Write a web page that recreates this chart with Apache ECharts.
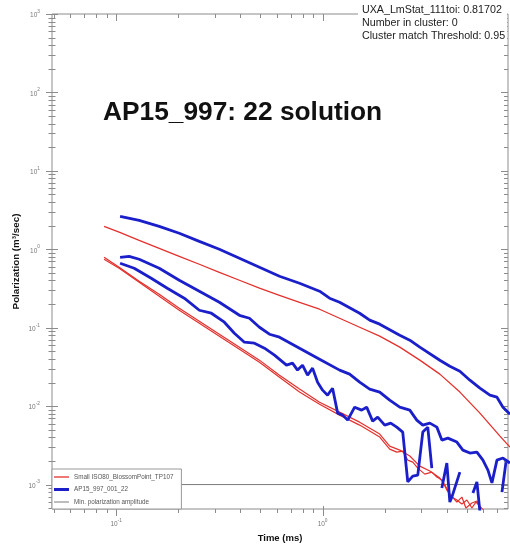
<!DOCTYPE html>
<html>
<head>
<meta charset="utf-8">
<script src="https://cdn.jsdelivr.net/npm/echarts@6/dist/echarts.min.js"></script>
<style>
  html, body { margin: 0; padding: 0; background: #fff; }
  #chart { width: 510px; height: 544px; }
</style>
</head>
<body>
<div id="chart"></div>
<script>
// Axis extents: time in ms, polarization in m^3/sec
const timeMin = 0.0489, timeMax = 7.91;
const polMin = 0.000488, polMax = 1000;
const minAmplitude = 0.001;

// Decade ticks and their exponents (labels read 10^exp)
const xMajorTicks = [0.1, 1];
const xTickExponents = ['-1', '0'];
const yMajorTicks = [0.001, 0.01, 0.1, 1, 10, 100, 1000];
const yTickExponents = ['-3', '-2', '-1', '0', '1', '2', '3'];

const refName = 'Small ISO80_BlossomPoint_TP107';
const solName = 'AP15_997_001_22';
const ampName = 'Min. polarization amplitude';

const statsLines = [
  'UXA_LmStat_111toi: 0.81702',
  'Number in cluster: 0',
  'Cluster match Threshold: 0.95'
];
const titleText = 'AP15_997: 22 solution';

// Reference decay curves [time, polarization]
const refUpper = [[0.0874,1.96],[0.1034,1.65],[0.1293,1.30],[0.1617,1.03],[0.2022,0.814],[0.2529,0.644],[0.3162,0.509],[0.3955,0.403],[0.4945,0.319],[0.6184,0.259],[0.7733,0.211],[0.967,0.172],[1.209,0.132],[1.512,0.1014],[1.891,0.078],[2.365,0.0565],[2.957,0.0386],[3.698,0.0256],[4.624,0.0151],[5.782,0.00815],[7.231,0.00415],[8.087,0.0030]];
const refLowerA = [[0.0874,0.791],[0.1034,0.590],[0.1293,0.391],[0.1617,0.267],[0.2022,0.177],[0.2529,0.121],[0.3162,0.0826],[0.3955,0.0564],[0.4945,0.0386],[0.6184,0.0248],[0.7733,0.0165],[0.967,0.0112],[1.209,0.00839],[1.512,0.00625],[1.891,0.0044],[2.114,0.00309],[2.365,0.00275],[2.645,0.00231],[2.957,0.00172],[3.307,0.00149],[3.698,0.00121],[3.91,0.000985],[4.135,0.000757],[4.472,0.000598],[4.729,0.000693],[4.945,0.000502],[5.288,0.000581],[5.592,0.000616],[5.848,0.000488]];
const refLowerB = [[0.0874,0.746],[0.1034,0.573],[0.1293,0.380],[0.1617,0.252],[0.2022,0.167],[0.2529,0.114],[0.3162,0.0779],[0.3955,0.0532],[0.4945,0.0363],[0.6184,0.0234],[0.7733,0.0151],[0.967,0.0106],[1.209,0.00768],[1.512,0.00573],[1.891,0.00403],[2.114,0.00283],[2.287,0.00259],[2.445,0.00267],[2.586,0.00205],[2.735,0.00193],[2.892,0.00162],[3.127,0.00136],[3.382,0.00144],[3.577,0.00125],[3.782,0.00114],[3.999,0.000851],[4.229,0.000693],[4.472,0.000635],[4.729,0.000564],[5.001,0.000635],[5.288,0.000502],[5.53,0.000598],[5.782,0.000532],[6.115,0.000447]];

// Solution decay curves [time, polarization]; '-' marks a gap
const solUpper = [[0.1045,2.63],[0.1293,2.34],[0.1617,1.96],[0.2022,1.60],[0.2529,1.26],[0.3162,1.00],[0.3955,0.768],[0.4945,0.590],[0.6184,0.453],[0.7733,0.369],[0.967,0.292],[1.081,0.238],[1.209,0.211],[1.512,0.153],[1.691,0.125],[1.891,0.111],[2.365,0.0802],[2.645,0.0693],[2.957,0.0565],[3.698,0.0385],[4.135,0.0323],[4.624,0.0279],[5.171,0.0214],[5.782,0.0170],[6.466,0.0138],[6.993,0.0130],[7.478,0.0097],[8.087,0.0079]];
const solMiddle = [[0.1045,0.791],[0.1156,0.814],[0.1293,0.746],[0.1617,0.573],[0.2022,0.403],[0.2529,0.292],[0.3162,0.211],[0.3955,0.144],[0.4423,0.132],[0.4945,0.1014],[0.553,0.0826],[0.6184,0.0757],[0.7733,0.0548],[0.967,0.0397],[1.209,0.0288],[1.352,0.0256],[1.512,0.0202],[1.691,0.0165],[1.891,0.0151],[2.114,0.0119],[2.365,0.0097],[2.645,0.0089],[2.86,0.00664],[3.058,0.00573],[3.307,0.00607],[3.577,0.0054],[3.782,0.00369],[4.045,0.00391],[4.472,0.00348],[4.782,0.00275],[5.171,0.00252],[5.592,0.00259],[5.98,0.00205],[6.324,0.00153],[6.612,0.00105],[6.993,0.00205],[7.478,0.00218],[8.087,0.00188]];
const solLower = [[0.1045,0.663],[0.1223,0.573],[0.1479,0.427],[0.1769,0.319],[0.2138,0.238],[0.2529,0.167],[0.2892,0.153],[0.3344,0.1175],[0.3739,0.0851],[0.4181,0.0653],[0.4677,0.0635],[0.5231,0.0548],[0.5848,0.0447],[0.6687,0.0333],[0.7152,0.0353],[0.7561,0.0288],[0.7996,0.0333],[0.8456,0.0248],[0.8943,0.0305],[0.9456,0.0202],[1.0,0.016],[1.057,0.0138],[1.118,0.0169],[1.183,0.00815],[1.251,0.00768],[1.323,0.00664],[1.43,0.0097],[1.546,0.0089],[1.635,0.0097],[1.748,0.00644],[1.849,0.00724],[2.0,0.00573],[2.138,0.00607],[2.287,0.0054],[2.445,0.00467],[2.586,0.00108],[2.735,0.00128],[2.892,0.00132],[3.058,0.00467],[3.233,0.0054],[3.382,0.00162],[3.5,'-'],[3.782,0.000902],[3.91,0.0014],[3.999,0.00188],[4.135,0.000598],[4.229,0.000693],[4.624,0.00144],[4.9,'-'],[5.348,0.00078],[5.592,0.00108],[5.782,0.00045],[6.5,'-'],[7.395,0.000802],[7.733,0.00193]];

const red = '#e3312d';
const blue = '#1a1fc9';
const gray = '#7a7a7a';
const axisColor = '#8c8c8c';
const font = '"Liberation Sans", Arial, sans-serif';

// Minor ticks at 2..9 of every decade inside the axis range
function minorTicks(lo, hi, firstExp, lastExp) {
  const out = [];
  for (let e = firstExp; e <= lastExp; e++) {
    for (let m = 2; m <= 9; m++) {
      const v = m * Math.pow(10, e);
      if (v > lo && v < hi) out.push(v);
    }
  }
  return out;
}

// Tick rows: [time, polarization, kind]; kind 0/1 = x minor/major, 2/3 = y minor/major
const tickData = [];
minorTicks(timeMin, timeMax, -2, 0).forEach(v => tickData.push([v, polMin, 0]));
xMajorTicks.forEach(v => tickData.push([v, polMin, 1]));
minorTicks(polMin, polMax, -4, 2).forEach(v => tickData.push([timeMin, v, 2]));
yMajorTicks.forEach(v => tickData.push([timeMin, v, 3]));

function renderTick(params, api) {
  const x = api.value(0), y = api.value(1), kind = api.value(2);
  const style = { stroke: axisColor, lineWidth: 1 };
  const major = kind === 1 || kind === 3;
  if (kind < 2) {
    const b = api.coord([x, polMin]);
    const t = api.coord([x, polMax]);
    const px = Math.round(b[0]) + 0.5;
    return { type: 'group', children: [
      { type: 'line', shape: { x1: px, y1: b[1] - (major ? 3 : 0), x2: px, y2: b[1] + (major ? 7 : 4) }, style },
      { type: 'line', shape: { x1: px, y1: t[1], x2: px, y2: t[1] + (major ? 7 : 4) }, style }
    ]};
  }
  const l = api.coord([timeMin, y]);
  const r = api.coord([timeMax, y]);
  const py = Math.round(l[1]) + 0.5;
  const half = major ? 6 : 3.5;
  return { type: 'group', children: [
    { type: 'line', shape: { x1: l[0] - half, y1: py, x2: l[0] + half, y2: py }, style },
    { type: 'line', shape: { x1: r[0] - (major ? 7 : 4), y1: py, x2: r[0], y2: py }, style }
  ]};
}

// "10" with a raised exponent, only at whole decades
function decadeLabel(values, exponents) {
  return v => {
    const i = values.findIndex(d => Math.abs(Math.log10(v) - Math.log10(d)) < 1e-6);
    return i < 0 ? '' : '{b|10}{s|' + exponents[i] + '}';
  };
}
const powerRich = {
  b: { fontSize: 6.5, lineHeight: 10, color: '#777', fontFamily: font, verticalAlign: 'bottom' },
  s: { fontSize: 4.8, lineHeight: 6, color: '#777', fontFamily: font, verticalAlign: 'top' }
};

// Thin bar icons sized like each series' stroke
function barIcon(thickness) {
  const y0 = (8 - thickness) / 2, y1 = y0 + thickness;
  return 'path://M0 0M15 8M0 ' + y0 + 'H15V' + y1 + 'H0Z';
}

function curve(name, data, color, width, z) {
  return {
    name, type: 'line', data, symbol: 'none', showSymbol: false,
    connectNulls: false, z,
    lineStyle: { color, width }, itemStyle: { color }
  };
}

const chart = echarts.init(document.getElementById('chart'), null, { renderer: 'canvas' });
chart.setOption({
  animation: false,
  backgroundColor: '#fff',
  textStyle: { fontFamily: font },
  grid: {
    left: 52, right: 2, top: 14, bottom: 35,
    outerBoundsMode: 'none', containLabel: false,
    show: true, borderColor: axisColor, borderWidth: 1, backgroundColor: 'transparent'
  },
  xAxis: {
    type: 'log', min: timeMin, max: timeMax,
    axisLine: { show: false }, axisTick: { show: false }, splitLine: { show: false },
    axisLabel: { formatter: decadeLabel(xMajorTicks, xTickExponents), rich: powerRich, margin: 9 },
    name: 'Time (ms)', nameLocation: 'middle', nameGap: 23,
    nameTextStyle: { fontWeight: 'bold', fontSize: 9.5, color: '#111', fontFamily: font }
  },
  yAxis: {
    type: 'log', min: polMin, max: polMax,
    axisLine: { show: false }, axisTick: { show: false }, splitLine: { show: false },
    axisLabel: { formatter: decadeLabel(yMajorTicks, yTickExponents), rich: powerRich, margin: 12 },
    name: 'Polarization (m³/sec)', nameLocation: 'middle', nameGap: 31, nameMoveOverlap: false,
    nameTextStyle: { fontWeight: 'bold', fontSize: 9.8, color: '#111', fontFamily: font }
  },
  legend: {
    orient: 'vertical', left: 52, bottom: 35,
    data: [
      { name: refName, icon: barIcon(1.3) },
      { name: solName, icon: barIcon(3) },
      { name: ampName, icon: barIcon(1) }
    ],
    itemWidth: 15, itemHeight: 8, itemGap: 4.5,
    padding: [4, 8, 3, 2],
    borderColor: '#999', borderWidth: 1, backgroundColor: '#fff',
    textStyle: { fontSize: 6.3, color: '#555', fontFamily: font }
  },
  graphic: [
    { type: 'text', left: 103, top: 100, z: 100,
      style: { text: titleText, font: 'bold 26.3px ' + font, fill: '#111' } },
    { type: 'text', left: 358, top: 3, z: 100,
      style: { text: statsLines.join('\n'), font: '10.7px ' + font, fill: '#222', lineHeight: 13,
               backgroundColor: '#fff', padding: [1, 2, 1, 4] } }
  ],
  series: [
    curve(refName, refUpper, red, 1.3, 2),
    curve(refName, refLowerA, red, 1.2, 2),
    curve(refName, refLowerB, red, 1.2, 2),
    curve(solName, solUpper, blue, 2.8, 3),
    curve(solName, solMiddle, blue, 2.8, 3),
    curve(solName, solLower, blue, 2.8, 3),
    {
      name: ampName, type: 'line', symbol: 'none', z: 1,
      data: [[timeMin, minAmplitude], [timeMax, minAmplitude]],
      lineStyle: { color: gray, width: 1 }, itemStyle: { color: gray }
    },
    { type: 'custom', renderItem: renderTick, data: tickData, clip: false, silent: true, z: 1 }
  ]
});
</script>
</body>
</html>
